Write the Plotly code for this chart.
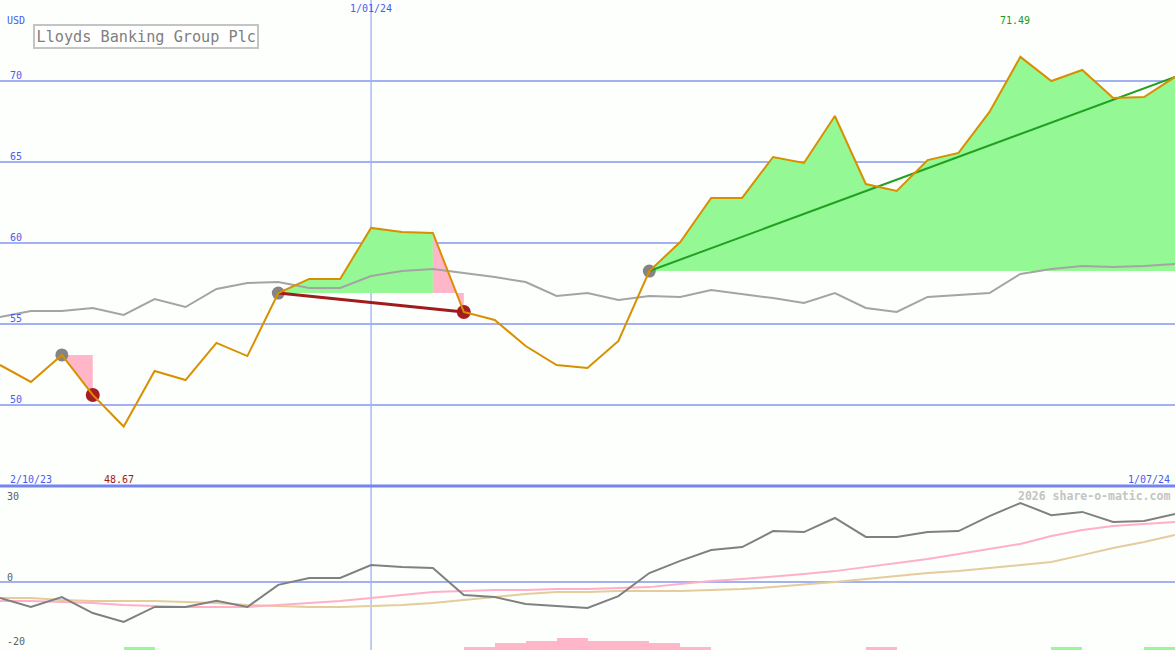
import plotly.graph_objects as go

# ---------------- data ----------------
price = [52.47, 51.42, 53.09, 50.62, 48.67, 52.10, 51.54, 53.83, 53.02, 56.91,
         57.78, 57.78, 60.93, 60.68, 60.62, 55.74, 55.25, 53.64, 52.47, 52.28,
         53.95, 58.27, 60.06, 62.78, 62.78, 65.31, 64.94, 67.84, 63.64, 63.21,
         65.12, 65.56, 68.09, 71.49, 70.00, 70.68, 68.95, 69.01, 70.25]
avg = [55.43, 55.80, 55.80, 55.99, 55.56, 56.54, 56.05, 57.16, 57.53, 57.59,
       57.22, 57.22, 57.96, 58.27, 58.40, 58.15, 57.90, 57.59, 56.73, 56.91,
       56.48, 56.73, 56.67, 57.10, 56.85, 56.60, 56.30, 56.91, 55.99, 55.74,
       56.67, 56.79, 56.91, 58.09, 58.40, 58.58, 58.52, 58.58, 58.70]
mom = [-5.0, -7.8, -4.7, -9.7, -12.5, -7.8, -7.8, -5.9, -7.8, -0.9,
       1.25, 1.25, 5.3, 4.7, 4.4, -4.1, -4.7, -6.9, -7.5, -8.1,
       -4.4, 2.8, 6.6, 10.0, 10.9, 15.9, 15.6, 20.0, 14.1, 14.1,
       15.6, 15.9, 20.6, 24.7, 20.9, 21.9, 18.75, 19.1, 21.25]
mom_fast = [-5.9, -5.9, -6.25, -6.6, -7.2, -7.5, -7.8, -7.8, -7.8, -7.2,
            -6.6, -5.9, -5.0, -4.1, -3.1, -2.8, -2.5, -2.5, -2.2, -2.2,
            -1.9, -1.6, -0.6, 0.3, 0.9, 1.6, 2.5, 3.4, 4.7, 5.9,
            7.2, 8.75, 10.3, 11.9, 14.4, 16.25, 17.5, 18.1, 18.75]
mom_slow = [-5.0, -5.0, -5.6, -5.9, -5.9, -5.9, -6.25, -6.6, -7.2, -7.5,
            -7.8, -7.8, -7.5, -7.2, -6.6, -5.6, -4.7, -3.75, -3.1, -3.1,
            -2.8, -2.8, -2.8, -2.5, -2.2, -1.6, -0.9, 0.0, 0.9, 1.9,
            2.8, 3.4, 4.4, 5.3, 6.25, 8.4, 10.6, 12.5, 14.7]
buy_idx = [2, 9, 21]
sell_idx = [3, 15, 38]
hist_idx = [4, 15, 16, 17, 18, 19, 20, 21, 22, 28, 34, 37]
hist_val = [1.0, 1.0, 2.1, 2.9, 3.8, 2.9, 2.9, 2.1, 1.0, 1.0, 1.0, 1.0]
hist_pos = [True, False, False, False, False, False, False, False, False, False, True, True]
price_ticks = [50, 55, 60, 65, 70]
osc_ticks = [30, 0, -20]
date_start, date_mid, date_end = "2/10/23", "1/01/24", "1/07/24"
mid_idx = 12
title = "Lloyds Banking Group Plc"

# ---------------- style ----------------
N = len(price)
xs = list(range(N))
BG = "#fcfffc"
GRID = "#a3b1f2"
BLUE = "#4a5cf0"
FONT = "DejaVu Sans Mono"
GREEN_FILL = "#94f994"
PINK_FILL = "#ffb6c8"
H, W = 650, 1175
split = 164 / H
top_rng = [45, 75]
bot_rng = [-21.25, 30]

fig = go.Figure()

# trade fills
gx, gy, px_, py_ = [], [], [], []
for b, s in zip(buy_idx, sell_idx):
    ref = price[b]
    for i in range(b, s):
        seg_x = [i, i, i + 1, i + 1, i, None]
        seg_y = [ref, price[i], price[i + 1], ref, ref, None]
        if price[i + 1] >= ref:
            gx += seg_x; gy += seg_y
        else:
            px_ += seg_x; py_ += seg_y
fig.add_trace(go.Scatter(x=gx, y=gy, fill="toself", fillcolor=GREEN_FILL, mode="lines",
                         line=dict(width=0, color=GREEN_FILL), hoverinfo="skip", xaxis="x", yaxis="y"))
fig.add_trace(go.Scatter(x=px_, y=py_, fill="toself", fillcolor=PINK_FILL, mode="lines",
                         line=dict(width=0, color=PINK_FILL), hoverinfo="skip", xaxis="x", yaxis="y"))

# average line
fig.add_trace(go.Scatter(x=xs, y=avg, mode="lines", line=dict(color="#a4a4a4", width=2),
                         xaxis="x", yaxis="y"))

# markers
fig.add_trace(go.Scatter(x=buy_idx, y=[price[i] for i in buy_idx], mode="markers",
                         marker=dict(size=13, color="#848484"), xaxis="x", yaxis="y"))
sells_closed = [s for s in sell_idx if s < N - 1]
fig.add_trace(go.Scatter(x=sells_closed, y=[price[i] for i in sells_closed], mode="markers",
                         marker=dict(size=14, color="#a81e1e"), xaxis="x", yaxis="y"))

# trade lines
for b, s in zip(buy_idx, sell_idx):
    if s - b < 2:
        continue
    gain = price[s] >= price[b]
    fig.add_trace(go.Scatter(x=[b, s], y=[price[b], price[s]], mode="lines",
                             line=dict(color="#22a022" if gain else "#a01c1c", width=2 if gain else 3),
                             xaxis="x", yaxis="y"))

# price line
fig.add_trace(go.Scatter(x=xs, y=price, mode="lines", line=dict(color="#d98f00", width=2),
                         xaxis="x", yaxis="y"))

# oscillator panel
fig.add_trace(go.Bar(x=[i + 0.5 for i in hist_idx], y=hist_val, base=bot_rng[0], width=1,
                     marker=dict(color=["#98f898" if p else PINK_FILL for p in hist_pos], line=dict(width=0)),
                     xaxis="x2", yaxis="y2"))
fig.add_trace(go.Scatter(x=xs, y=mom_slow, mode="lines", line=dict(color="#e4cc9c", width=2),
                         xaxis="x2", yaxis="y2"))
fig.add_trace(go.Scatter(x=xs, y=mom_fast, mode="lines", line=dict(color="#ffb0c8", width=2),
                         xaxis="x2", yaxis="y2"))
fig.add_trace(go.Scatter(x=xs, y=mom, mode="lines", line=dict(color="#808080", width=2),
                         xaxis="x2", yaxis="y2"))

ax_common = dict(range=[0, N - 1], showgrid=False, showticklabels=False, zeroline=False,
                 showline=False, ticks="")
fig.update_layout(
    width=W, height=H, margin=dict(l=0, r=0, t=0, b=0),
    paper_bgcolor=BG, plot_bgcolor=BG, showlegend=False, bargap=0,
    xaxis=dict(domain=[0, 1], anchor="y", **ax_common),
    xaxis2=dict(domain=[0, 1], anchor="y2", matches="x", **ax_common),
    yaxis=dict(domain=[split, 1], range=top_rng, tickvals=price_ticks, showgrid=True, gridcolor=GRID,
               gridwidth=2, showticklabels=False, zeroline=False, ticks=""),
    yaxis2=dict(domain=[0, split], range=bot_rng, tickvals=[0], showgrid=True, gridcolor=GRID,
                gridwidth=2, showticklabels=False, zeroline=False, ticks=""),
)

# vertical date line and separator
fig.add_shape(type="line", xref="x", yref="paper", x0=mid_idx, x1=mid_idx, y0=0, y1=1,
              line=dict(color="#98a8f4", width=1.2), layer="below")
fig.add_shape(type="line", xref="paper", yref="paper", x0=0, x1=1, y0=split, y1=split,
              line=dict(color="#7585f0", width=3))

ann = []
def A(**kw):
    base = dict(showarrow=False, font=dict(family=FONT, size=10, color=BLUE))
    base.update(kw)
    ann.append(base)

A(text="USD", xref="paper", yref="paper", x=5 / W, y=1 - 20 / H, xanchor="left", yanchor="middle")
for v in price_ticks:
    A(text=str(v), xref="paper", yref="y", x=8 / W, y=v, yshift=6, xanchor="left", yanchor="middle")
for v in osc_ticks:
    A(text=str(v), xref="paper", yref="y2", x=5 / W, y=v, yshift=(-10 if v == osc_ticks[0] else 5),
      xanchor="left", yanchor="middle", font=dict(family=FONT, size=10, color="#606060"))
A(text=date_mid, xref="x", yref="paper", x=mid_idx, y=1 - 9 / H, xanchor="center", yanchor="middle")
A(text=date_start, xref="paper", yref="paper", x=8 / W, y=1 - 479 / H, xanchor="left", yanchor="middle")
A(text=date_end, xref="paper", yref="paper", x=1172 / W, y=1 - 479 / H, xanchor="right", yanchor="middle")
imin = price.index(min(price)); imax = price.index(max(price))
A(text=f"{price[imin]:.2f}", xref="x", yref="paper", x=imin, xshift=-5, y=1 - 479 / H,
  xanchor="center", yanchor="middle", font=dict(family=FONT, size=10, color="#a01818"))
A(text=f"{price[imax]:.2f}", xref="x", yref="paper", x=imax, xshift=-5, y=1 - 21 / H,
  xanchor="center", yanchor="middle", font=dict(family=FONT, size=10, color="#209820"))
A(text="<b>2026 share-o-matic.com</b>", xref="paper", yref="paper", x=1172 / W, y=1 - 496 / H,
  xanchor="right", yanchor="middle", font=dict(family=FONT, size=11.5, color="#c4c4c4"))
A(text=title, xref="paper", yref="paper", x=33 / W, y=1 - 36.5 / H, xanchor="left", yanchor="middle",
  bordercolor="#c4c4c4", borderwidth=2, borderpad=1.5, bgcolor="#ffffff",
  font=dict(family=FONT, size=15.2, color="#808080"))
fig.update_layout(annotations=ann)

fig.write_html("out.html", config={"displayModeBar": False},
               post_script="document.body.style.margin='0px';document.body.style.overflow='hidden';")
